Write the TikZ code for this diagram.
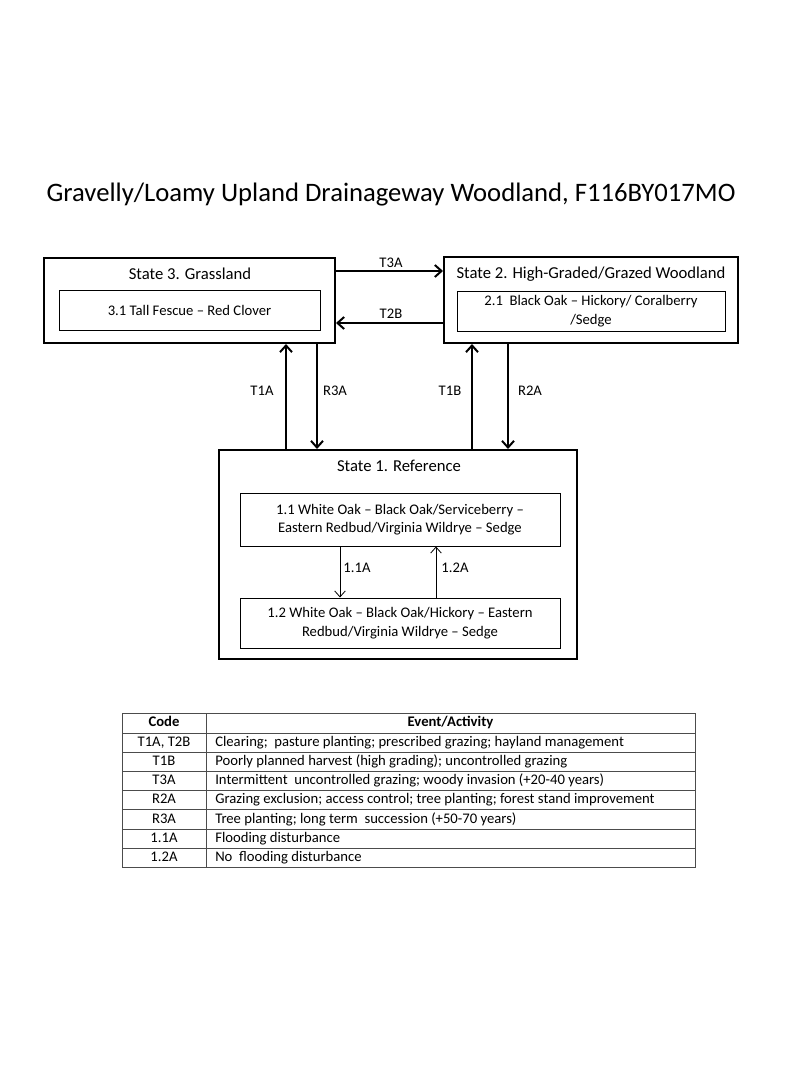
\documentclass[tikz,border=0pt]{standalone}
\usepackage{fontspec}
\setmainfont{Carlito}
\usepackage{tikz}
\usetikzlibrary{arrows,arrows.meta,shapes}

\tikzset{
  statebox/.style={draw, line width=1.5pt, rectangle, inner sep=0pt},
  phasebox/.style={draw, line width=0.75pt, rectangle, inner sep=0pt, align=center, font=\fontsize{11}{14}\selectfont},
  lab/.style={font=\fontsize{11}{13}\selectfont},
  statelab/.style={font=\fontsize{12.5}{15}\selectfont},
  cell/.style={font=\fontsize{11}{13}\selectfont, text height=7.6pt, text depth=2.2pt, inner ysep=0pt},
  bigarrow/.style={-{Straight Barb[length=5pt,width=9pt]}, line width=1.5pt},
  smallarrow/.style={-{Straight Barb[length=4.5pt,width=8pt]}, line width=0.6pt},
  rule/.style={line width=0.7pt, black!70}
}

\begin{document}
\begin{tikzpicture}[x=0.75pt, y=-0.75pt]
  \useasboundingbox[fill=white] (0,0) rectangle (800,1067);
  \node[font=\fontsize{20}{24}\selectfont] (title) at (391,195) {Gravelly/Loamy Upland Drainageway Woodland, F116BY017MO};
  % states
  \node[statebox, minimum width=218.25pt, minimum height=63.75pt] (s3) at (189.5,300.5) {};
  \node[statebox, minimum width=220.5pt, minimum height=64.5pt] (s2) at (591,300) {};
  \node[statebox, minimum width=268.5pt, minimum height=156.75pt] (s1) at (398,554.5) {};
  \node[statelab] (s3lab) at (190,274) {State 3. Grassland};
  \node[statelab] (s2lab) at (591,274) {State 2. High-Graded/Grazed Woodland};
  \node[statelab] (s1lab) at (399,466) {State 1. Reference};
  % phases
  \node[phasebox, minimum width=195.75pt, minimum height=30pt] (p31) at (189.5,310) {3.1 Tall Fescue -- Red Clover};
  \node[phasebox, minimum width=201pt, minimum height=30pt] (p21) at (591,311) {2.1\ \ Black Oak -- Hickory/ Coralberry\\/Sedge};
  \node[phasebox, minimum width=240pt, minimum height=39.75pt] (p11) at (400,519.5) {1.1 White Oak -- Black Oak/Serviceberry --\\Eastern Redbud/Virginia Wildrye -- Sedge};
  \node[phasebox, minimum width=240pt, minimum height=37.5pt] (p12) at (400,623) {1.2 White Oak -- Black Oak/Hickory -- Eastern\\Redbud/Virginia Wildrye -- Sedge};
  % transitions
  \draw[bigarrow] (s3.east |- 0,271) -- (s2.west |- 0,271);
  \draw[bigarrow] (s2.west |- 0,323) -- (s3.east |- 0,323);
  \draw[bigarrow] (s1.north -| 286,0) -- (s3.south -| 286,0);
  \draw[bigarrow] (s3.south -| 317,0) -- (s1.north -| 317,0);
  \draw[bigarrow] (s1.north -| 472,0) -- (s2.south -| 472,0);
  \draw[bigarrow] (s2.south -| 508,0) -- (s1.north -| 508,0);
  \draw[smallarrow] (p11.south -| 340,0) -- (p12.north -| 340,0);
  \draw[smallarrow] (p12.north -| 436,0) -- (p11.south -| 436,0);
  \node[lab] (t3a) at (391,263) {T3A};
  \node[lab] (t2b) at (391,314) {T2B};
  \node[lab] (t1a) at (262,391) {T1A};
  \node[lab] (r3a) at (335,391) {R3A};
  \node[lab] (t1b) at (450,391) {T1B};
  \node[lab] (r2a) at (530,391) {R2A};
  \node[lab] (a11) at (357,568) {1.1A};
  \node[lab] (a12) at (455,568) {1.2A};
  % table
  \draw[rule] (122,713) rectangle (695,867);
  \draw[rule] (206,713) -- (206,867);
  \foreach \y in {733,752.2,771.4,790.6,809.8,829,848.2}
    \draw[rule] (122,\y) -- (695,\y);
  \node[cell, font=\fontsize{11}{13}\selectfont\bfseries] (hcode) at (164,723) {Code};
  \node[cell, font=\fontsize{11}{13}\selectfont\bfseries] (hevent) at (450.5,723) {Event/Activity};
  \foreach \i/\c/\e in {0/{T1A, T2B}/{Clearing;\ \ pasture planting; prescribed grazing; hayland management},
                        1/T1B/{Poorly planned harvest (high grading); uncontrolled grazing},
                        2/T3A/{Intermittent\ \ uncontrolled grazing; woody invasion (+20-40 years)},
                        3/R2A/{Grazing exclusion; access control; tree planting; forest stand improvement},
                        4/R3A/{Tree planting; long term\ \ succession (+50-70 years)},
                        5/1.1A/{Flooding disturbance},
                        6/1.2A/{No\ \ flooding disturbance}} {
    \node[cell] (code\i) at (164,742.6+19.2*\i) {\c};
    \node[cell, anchor=west, inner xsep=0pt] (event\i) at (215,742.6+19.2*\i) {\e};
  }
\end{tikzpicture}
\end{document}
